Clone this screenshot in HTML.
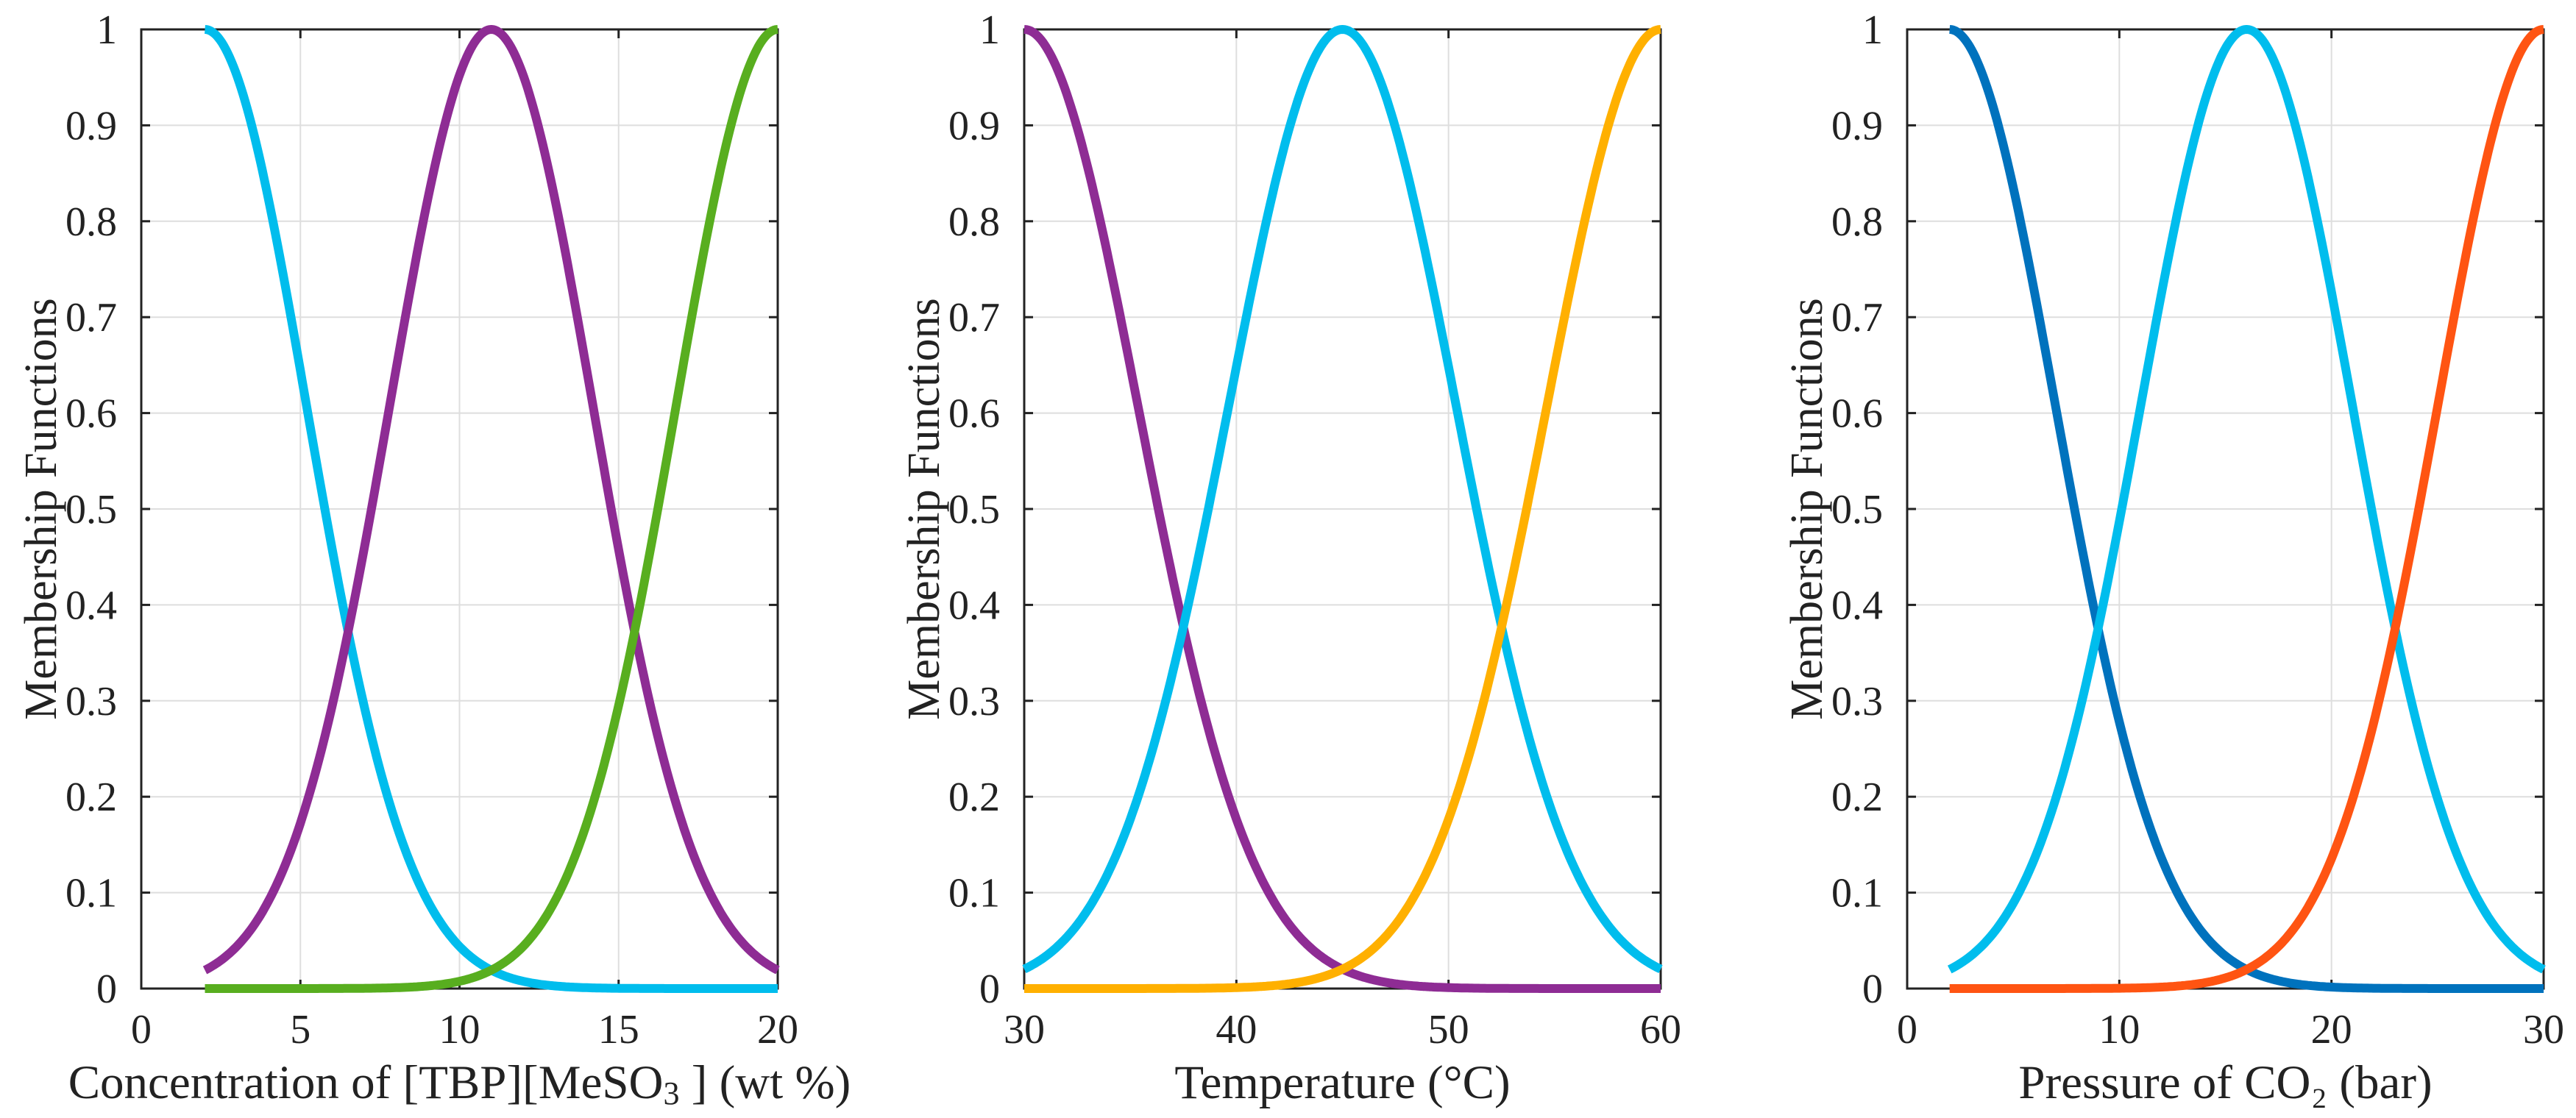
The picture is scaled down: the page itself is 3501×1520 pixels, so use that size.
<!DOCTYPE html>
<html><head><meta charset="utf-8"><style>
html,body{margin:0;padding:0;background:#fff}
svg{display:block}
text{font-family:"Liberation Serif",serif;fill:#222}
</style></head><body>
<svg id="chart" width="3501" height="1520" viewBox="0 0 3501 1520" xmlns="http://www.w3.org/2000/svg"></svg>
<script>
// Panel data
const panelNames = ["concentration", "temperature", "pressure"];
const xDomains = [[0,20],[30,60],[0,30]];
const xTicks = [[0,5,10,15,20],[30,40,50,60],[0,10,20,30]];
const xRanges = [[2,20],[30,60],[2,30]];
const yTicks = [0,0.1,0.2,0.3,0.4,0.5,0.6,0.7,0.8,0.9,1];
const yTickLabels = ["0","0.1","0.2","0.3","0.4","0.5","0.6","0.7","0.8","0.9","1"];
// Gaussian membership functions: centers and sigmas per panel
const mfCenters = [[2,11,20],[30,45,60],[2,16,30]];
const mfSigmas = [[3.2,3.2,3.2],[5.37,5.37,5.37],[5.0,5.0,5.0]];
const mfColors = [["#00BDED","#8E2C94","#58AE1F"],["#8E2C94","#00BDED","#FFB000"],["#0072BD","#00BDED","#FF5412"]];
const mfNames = [["low","medium","high"],["low","medium","high"],["low","medium","high"]];
const xLabels = ["Concentration of [TBP][MeSO<tspan baseline-shift='-8' font-size='44'>3</tspan> ] (wt %)","Temperature (°C)","Pressure of CO₂ (bar)"];

const layout = [{l:192,r:1057},{l:1392,r:2257},{l:2592,r:3457}];
const plotTop = 40, plotBottom = 1344;
const NS = "http://www.w3.org/2000/svg";
const svg = document.getElementById('chart');
function mk(tag, attrs, parent){
  const e = document.createElementNS(NS, tag);
  for (const k in attrs) e.setAttribute(k, attrs[k]);
  (parent||svg).appendChild(e);
  return e;
}
panelNames.forEach((pn, p) => {
  const L = layout[p];
  const [d0,d1] = xDomains[p];
  const xs = v => L.l + (v-d0)/(d1-d0)*(L.r-L.l);
  const ys = v => plotBottom - v*(plotBottom-plotTop);
  const g = mk('g', {});
  
  
  xTicks[p].forEach(t => {
    if (t===d0 || t===d1) return;
    const ln = mk('line',{x1:xs(t),x2:xs(t),y1:plotTop,y2:plotBottom,stroke:'#dedede','stroke-width':2},g);
    
    
  });
  yTicks.forEach(t => {
    if (t===0 || t===1) return;
    const ln = mk('line',{x1:L.l,x2:L.r,y1:ys(t),y2:ys(t),stroke:'#dedede','stroke-width':2},g);
    
    
  });
  const ax = mk('path',{d:`M${L.l},${plotTop}H${L.r}V${plotBottom}H${L.l}Z`,fill:'none',stroke:'#222','stroke-width':3},g);
  
  
  xTicks[p].forEach(t => {
    const x = xs(t);
    mk('line',{x1:x,x2:x,y1:plotBottom,y2:plotBottom-12,stroke:'#222','stroke-width':3},g);
    mk('line',{x1:x,x2:x,y1:plotTop,y2:plotTop+12,stroke:'#222','stroke-width':3},g);
    const tx = mk('text',{x:x,y:1418,'text-anchor':'middle','font-size':56},g);
    tx.textContent = String(t);
    
    
  });
  yTicks.forEach((t,i) => {
    const y = ys(t);
    mk('line',{x1:L.l,x2:L.l+12,y1:y,y2:y,stroke:'#222','stroke-width':3},g);
    mk('line',{x1:L.r,x2:L.r-12,y1:y,y2:y,stroke:'#222','stroke-width':3},g);
    const tx = mk('text',{x:L.l-33,y:y+19,'text-anchor':'end','font-size':56},g);
    tx.textContent = yTickLabels[i];
    
    
  });
  const yl = mk('text',{x:0,y:0,'text-anchor':'middle','font-size':62,transform:`translate(${L.l-116},${(plotTop+plotBottom)/2}) rotate(-90)`},g);
  yl.textContent = 'Membership Functions';
  
  
  const xl = mk('text',{x:(L.l+L.r)/2,y:1493,'text-anchor':'middle','font-size':65},g);
  xl.innerHTML = xLabels[p];
  
  
  const [r0,r1] = xRanges[p];
  mfCenters[p].forEach((c,k) => {
    const s = mfSigmas[p][k];
    let d = '';
    const N = 300;
    for (let i=0;i<=N;i++){
      const v = r0 + (r1-r0)*i/N;
      const m = Math.exp(-((v-c)*(v-c))/(2*s*s));
      d += (i?'L':'M') + xs(v).toFixed(1) + ',' + ys(m).toFixed(1);
    }
    const path = mk('path',{d:d,fill:'none',stroke:mfColors[p][k],'stroke-width':12,'stroke-linejoin':'round'},g);
    
    
  });
});
</script>
</body></html>
